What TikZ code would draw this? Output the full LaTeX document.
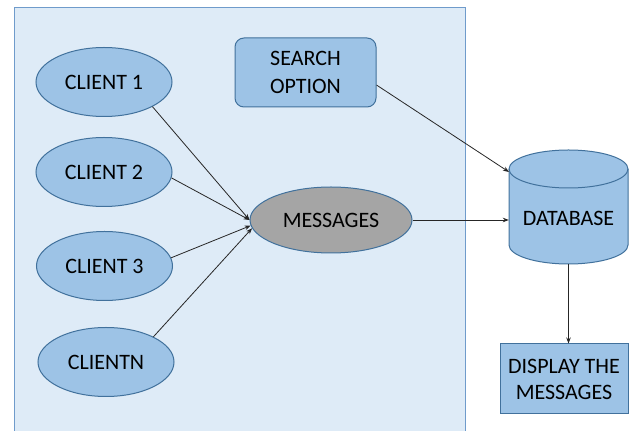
\documentclass[tikz,border=0pt]{standalone}
\usepackage{fontspec}
\setmainfont{Carlito}
\usetikzlibrary{arrows.meta,shapes.geometric}
\definecolor{panelfill}{HTML}{DEEBF7}
\definecolor{panelline}{HTML}{6F9BCB}
\definecolor{shapefill}{HTML}{9DC3E6}
\definecolor{shapeline}{HTML}{41719C}
\definecolor{msgfill}{HTML}{A5A5A5}
\definecolor{arrowcol}{HTML}{262626}
\tikzset{
  client/.style={ellipse, draw=shapeline, fill=shapefill, line width=1pt, minimum width=136pt, minimum height=69pt, inner sep=0pt, font=\fontsize{22}{26}\selectfont},
  boxnode/.style={draw=shapeline, fill=shapefill, line width=1pt, inner sep=0pt, align=center},
  conn/.style={draw=arrowcol, line width=0.8pt, -{Stealth[length=6pt,width=4.5pt]}},
}
\begin{document}
\begin{tikzpicture}[x=1pt,y=1pt]
\useasboundingbox (0,0) rectangle (633,431);
% panel
\draw[fill=panelfill, draw=panelline, line width=1pt] (14,-5) -- (14,423) -- (465,423) -- (465,-5);
% clients
\node[client] (c1) at (104,349) {CLIENT 1};
\node[client] (c2) at (104,259) {CLIENT 2};
\node[client] (c3) at (104.5,165) {CLIENT 3};
\node[client] (cn) at (106,69) {CLIENTN};
% messages
\node[client, fill=msgfill, minimum width=162pt, minimum height=66pt] (msg) at (331,211) {MESSAGES};
% search option
\node[boxnode, rounded corners=9pt, minimum width=141pt, minimum height=69pt, font=\fontsize{22}{28}\selectfont] (search) at (305.5,358.5) {SEARCH\\OPTION};
% database cylinder
\node[minimum width=119pt, minimum height=114pt, inner sep=0pt] (db) at (568.5,224) {};
\filldraw[fill=shapefill, draw=shapeline, line width=1pt]
  (509,262) -- (509,186) arc[start angle=180, end angle=360, x radius=59.5, y radius=19]
  -- (628,262) arc[start angle=0, end angle=180, x radius=59.5, y radius=19] -- cycle;
\draw[shapeline, line width=1pt] (509,262) arc[start angle=180, end angle=360, x radius=59.5, y radius=19];
\node[font=\fontsize{22}{26}\selectfont] (dbtext) at (568.5,213) {DATABASE};
\coordinate (dbin) at (509,259);
% display
\node[boxnode, minimum width=128pt, minimum height=70pt, font=\fontsize{22}{26}\selectfont] (disp) at (564,52) {DISPLAY THE\\MESSAGES};
% connectors
\draw[conn] (c1.-27) -- (msg.west);
\draw[conn] (c2.-5) -- (msg.west);
\draw[conn] (c3.7) -- (msg.184);
\draw[conn] (cn.28) -- (msg.186);
\draw[conn] (search.-10) -- (dbin);
\draw[conn] (msg.east) -- (msg.east -| db.west);
\draw[conn] (db.south) -- (db.south |- disp.north);
\end{tikzpicture}
\end{document}
